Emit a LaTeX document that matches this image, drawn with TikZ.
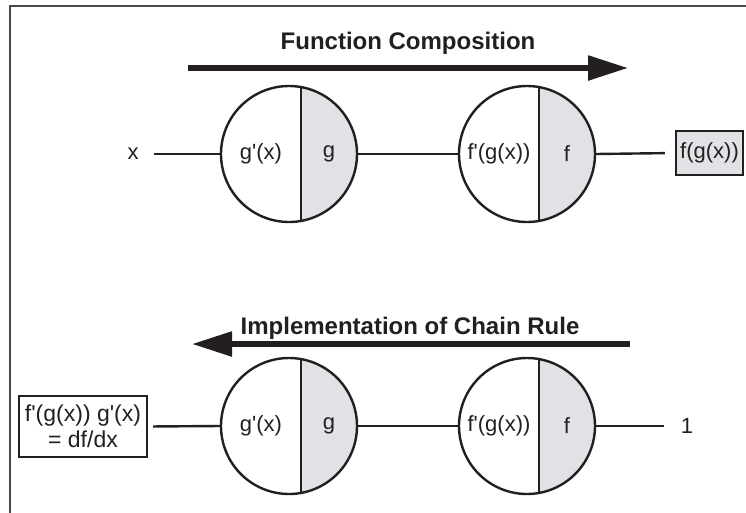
\documentclass[tikz,border=0pt]{standalone}
\usepackage{fontspec}
\newfontfamily\diagfont{Liberation Sans}
\usetikzlibrary{arrows.meta,calc}
\definecolor{ink}{HTML}{231F20}
\definecolor{cellgray}{HTML}{E1E2E5}
\definecolor{rim}{HTML}{4A4A4A}
\tikzset{
  labeltext/.style={font=\diagfont\fontsize{22}{26}\selectfont, text=ink, inner sep=0pt},
  heading/.style={font=\diagfont\bfseries\fontsize{24}{28}\selectfont, text=ink, inner sep=0pt, anchor=base},
  unit/.style={circle, minimum size=136pt, inner sep=0pt, draw=ink, line width=2.4pt},
  divider/.style={draw=ink, line width=2.2pt},
  wire/.style={draw=ink, line width=2.4pt},
  flow/.style={draw=ink, line width=5.5pt, -{Triangle[length=40pt 0, width=24pt 0]}},
  resultbox/.style={labeltext, font=\diagfont\fontsize{23}{26}\selectfont, draw=ink, line width=2.2pt, align=center},
}
% a unit: circle whose right part (right of an off-centre divider) is tinted
\newcommand\splitunit[4]{%
  \fill[cellgray] ($(#2)+(79.84:68)$) arc[start angle=79.84, end angle=-79.84, radius=68] -- cycle;
  \draw[divider] ($(#2)+(79.84:68)$) -- ($(#2)+(-79.84:68)$);
  \node[unit] (#1) at (#2) {};
  \node[labeltext] (#1-l) at ($(#2)+(-28,0)$) {#3};
  \node[labeltext] (#1-r) at ($(#2)+(40,0)$) {#4};
}
\begin{document}
\begin{tikzpicture}[x=1pt,y=-1pt]
\useasboundingbox (0,0) rectangle (746,512);
\fill[white] (0,0) rectangle (746,512);
% frame
\draw[rim, line width=1.5pt] (10,513) -- (10,6) -- (747,6);

% forward pass
\node[heading] (fwdtitle) at (408,49) {Function Composition};
\coordinate (fa) at (188,68);
\coordinate (fb) at (628,68);
\draw[flow] (fa) -- (fb);

\node[labeltext] (xin) at (133,154) {x};
\splitunit{gt}{289,154}{g'(x)}{g}
\splitunit{ft}{527,154}{f'(g(x))}{f}
\node[labeltext, draw=ink, fill=cellgray, line width=2.2pt, minimum width=67pt, minimum height=44pt] (fout) at (709.5,153) {f(g(x))};

\draw[wire, shorten <=15.5pt] (xin.east) -- (gt.west);
\draw[wire] (gt.east) -- (ft.west);
\draw[wire, shorten >=10pt] (ft.east) -- (fout.west);

% backward pass
\node[heading] (bwdtitle) at (410,334) {Implementation of Chain Rule};
\coordinate (ca) at (630,344);
\coordinate (cb) at (192,344);
\draw[flow] (ca) -- (cb);

\node[resultbox, minimum width=128pt, minimum height=61pt] (dout) at (83,426.5) {f'(g(x)) g'(x)\\= df/dx};
\splitunit{gb}{289,426}{g'(x)}{g}
\splitunit{fb}{527,426}{f'(g(x))}{f}
\node[labeltext] (one) at (687,426) {1};

\draw[wire, shorten <=5pt] (dout.east) -- (gb.west);
\draw[wire] (gb.east) -- (fb.west);
\draw[wire, shorten >=17pt] (fb.east) -- (one.west);
\end{tikzpicture}
\end{document}
